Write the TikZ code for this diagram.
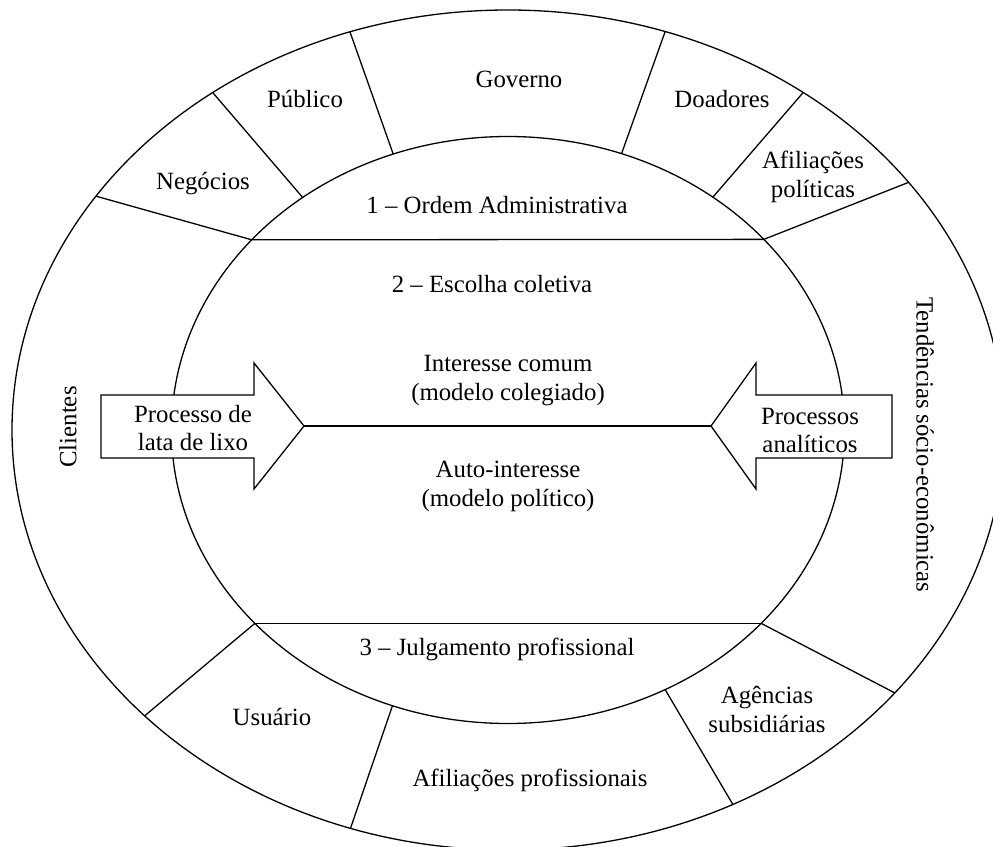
\documentclass[tikz,border=0pt]{standalone}
\usepackage{fontspec}
\setmainfont{Liberation Serif}
\newcommand\outpt[3]{\pgfmathsetmacro\tang{atan2((430-(#3))/420,((#2)-508)/496)}\coordinate (#1) at ({508+496*cos(\tang)},{430-420*sin(\tang)});}
\newcommand\inpt[3]{\pgfmathsetmacro\tang{atan2((430-(#3))/293.5,((#2)-508)/336.5)}\coordinate (#1) at ({508+336.5*cos(\tang)},{430-293.5*sin(\tang)});}
\begin{document}
\begin{tikzpicture}[x=1pt,y=-1pt,
  lbl/.style={font=\fontsize{24.8}{29}\selectfont, align=center, inner sep=0pt},
  ln/.style={line width=1.3pt},
  arr/.style={line width=1.3pt, fill=white, line join=miter}]
\useasboundingbox (0,0) rectangle (993,846);
\clip (0,0) rectangle (993,846);
% ellipses
\coordinate (c) at (508,430);
\draw[ln] (c) ellipse [x radius=496pt, y radius=420pt];
\draw[ln] (c) ellipse [x radius=336.5pt, y radius=293.5pt];
% chords
\inpt{tl}{252}{240} \inpt{tr}{763}{240}
\inpt{bl}{254}{624} \inpt{br}{762}{624}
\draw[ln] (tl) -- (tr);
\draw[ln] (bl) -- (br);
% radial lines
\outpt{o1}{101}{199} \draw[ln] (o1) -- (tl);
\outpt{o2}{214}{94} \inpt{i2}{304}{199} \draw[ln] (o2) -- (i2);
\outpt{o3}{350}{32} \inpt{i3}{394}{156} \draw[ln] (o3) -- (i3);
\outpt{o4}{665}{32} \inpt{i4}{621}{155} \draw[ln] (o4) -- (i4);
\outpt{o5}{801}{95} \inpt{i5}{713}{197} \draw[ln] (o5) -- (i5);
\outpt{o6}{914}{179} \draw[ln] (o6) -- (tr);
\outpt{o7}{147}{714} \draw[ln] (o7) -- (bl);
\outpt{o8}{351}{827} \inpt{i8}{394}{702} \draw[ln] (o8) -- (i8);
\outpt{o9}{732}{803} \inpt{i9}{666}{691} \draw[ln] (o9) -- (i9);
\outpt{o10}{892}{691} \draw[ln] (o10) -- (br);
% arrows
\coordinate (ltip) at (304,426);
\coordinate (rtip) at (711,426);
\draw[arr] (101,395) -- (254,395) -- (254,363) -- (ltip) -- (254,489) -- (254,458) -- (101,458) -- cycle;
\draw[arr] (892,395) -- (756,395) -- (756,363) -- (rtip) -- (756,489) -- (756,458) -- (892,458) -- cycle;
\draw[ln] (ltip) -- (rtip);
% labels
\node[lbl] (gov) at (519,79) {Governo};
\node[lbl] (pub) at (305,99) {Público};
\node[lbl] (neg) at (203,184) {Negócios};
\node[lbl] (doa) at (722,99) {Doadores};
\node[lbl] (afp) at (813,177) {Afiliações\\políticas};
\node[lbl] (ord) at (497,205) {1 – Ordem Administrativa};
\node[lbl] (esc) at (492,284) {2 – Escolha coletiva};
\node[lbl] (int) at (508,381) {Interesse comum\\(modelo colegiado)};
\node[lbl] (aut) at (508,486) {Auto-interesse\\(modelo político)};
\node[lbl, font=\fontsize{24.8}{28}\selectfont] (lix) at (193,428) {Processo de\\lata de lixo};
\node[lbl, font=\fontsize{24.8}{28}\selectfont] (ana) at (810,430) {Processos\\analíticos};
\node[lbl, rotate=90] (cli) at (68,427) {Clientes};
\node[lbl, rotate=-90] (ten) at (925,445) {Tendências sócio-econômicas};
\node[lbl] (jul) at (497,649) {3 – Julgamento profissional};
\node[lbl] (usu) at (272,717) {Usuário};
\node[lbl] (afr) at (530,780) {Afiliações profissionais};
\node[lbl] (age) at (767,709) {Agências\\subsidiárias};
\end{tikzpicture}
\end{document}
